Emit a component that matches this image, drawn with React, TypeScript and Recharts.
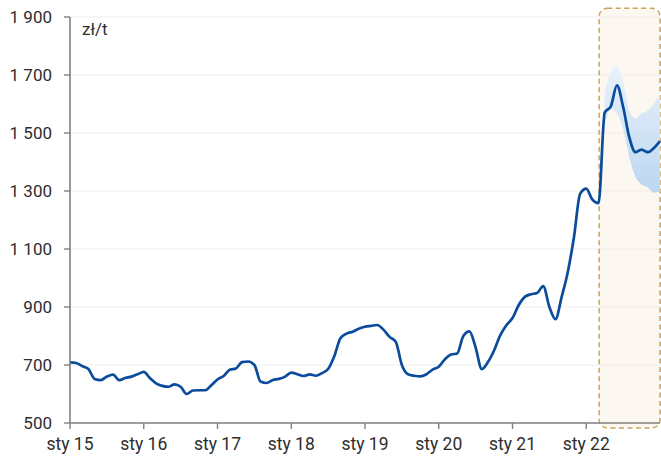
import React from 'react';
import {
  ComposedChart,
  Line,
  Area,
  XAxis,
  YAxis,
  CartesianGrid,
  ReferenceArea,
} from 'recharts';

// Monthly price, zł/t, from January 2015 (index 0) through February 2022
const history: number[] = [
  709, 707, 696, 686, 652, 648, 660, 667, 648, 655, 660, 668,
  676, 655, 637, 628, 625, 633, 625, 600, 612, 613, 613, 630,
  650, 662, 684, 688, 710, 712, 700, 643, 638, 648, 652, 660,
  674, 668, 662, 668, 663, 672, 686, 730, 792, 808, 815, 825,
  832, 835, 838, 822, 797, 780, 700, 668, 663, 661, 668, 684,
  694, 720, 736, 740, 800, 816, 760, 686, 710, 750, 802, 837,
  862, 906, 935, 944, 948, 972, 900, 858, 935, 1021, 1141, 1290,
  1308, 1270, 1258,
];

// Forecast path and its uncertainty range
const forecast: number[] = [1570, 1592, 1664, 1590, 1486, 1434, 1443, 1434, 1448, 1472];
const forecastLow: number[] = [1521, 1584, 1567, 1515, 1417, 1348, 1322, 1312, 1294, 1297];
const forecastHigh: number[] = [1639, 1710, 1733, 1676, 1578, 1550, 1567, 1578, 1601, 1636];

// Axis ticks
const yearLabels: string[] = ['sty 15', 'sty 16', 'sty 17', 'sty 18', 'sty 19', 'sty 20', 'sty 21', 'sty 22'];
const yTicks: number[] = [500, 700, 900, 1100, 1300, 1500, 1700, 1900];

// Forecast window (months since Jan 2015) and the frame's vertical extent
const forecastWindow: number[] = [86.1, 96];
const frameRange: number[] = [483, 1930];

type Row = { t: number; price: number; band?: [number, number] };

const rows: Row[] = [
  ...history.map((price, i) => ({ t: i, price })),
  ...forecast.map((price, j) => ({
    t: history.length + j,
    price,
    band: [forecastLow[j], forecastHigh[j]] as [number, number],
  })),
];

const xTicks = yearLabels.map((_, i) => i * 12);
const lastT = rows[rows.length - 1].t;

const fmtThousands = (v: number) => String(v).replace(/\B(?=(\d{3})+(?!\d))/g, '\u00a0');

const FONT = 'Roboto, "Noto Sans", sans-serif';
const TEXT = '#2e2e2e';
const AXIS = '#808080';

const ForecastFrame = (props: any) => {
  const { x, y, width, height } = props;
  return (
    <rect
      x={x}
      y={y}
      width={width}
      height={height}
      rx={8}
      ry={8}
      fill="#F6EAD8"
      fillOpacity={0.38}
      stroke="#C9A35A"
      strokeWidth={1.5}
      strokeDasharray="5 3.5"
    />
  );
};

export default function App() {
  return (
    <div style={{ position: 'absolute', left: 0, top: 0, width: 661, height: 461, background: '#fff' }}>
      <ComposedChart
        width={661}
        height={461}
        data={rows}
        margin={{ top: 17, right: 1, bottom: 8, left: 0 }}
        style={{ fontFamily: FONT }}
      >
        <defs>
          <linearGradient id="bandFill" x1="0" y1="0" x2="0" y2="1">
            <stop offset="0%" stopColor="#EAF2FB" />
            <stop offset="100%" stopColor="#BBD7F1" />
          </linearGradient>
        </defs>
        <CartesianGrid horizontal vertical={false} stroke="#EDEDED" strokeWidth={1.2} />
        <ReferenceArea
          x1={forecastWindow[0]}
          x2={forecastWindow[1]}
          y1={frameRange[0]}
          y2={frameRange[1]}
          ifOverflow="visible"
          shape={<ForecastFrame />}
        />
        <XAxis
          dataKey="t"
          type="number"
          domain={[0, lastT]}
          ticks={xTicks}
          interval={0}
          tickFormatter={(v: number) => yearLabels[Math.round(v / 12)]}
          height={30}
          tickSize={6}
          tickMargin={9}
          axisLine={{ stroke: AXIS, strokeWidth: 1.6 }}
          tickLine={{ stroke: AXIS, strokeWidth: 1.4 }}
          tick={{ fill: TEXT, fontSize: 17.5, fontFamily: FONT }}
        />
        <YAxis
          type="number"
          domain={[500, 1900]}
          ticks={yTicks}
          interval={0}
          width={70}
          tickSize={6}
          tickMargin={12}
          tickFormatter={fmtThousands}
          axisLine={{ stroke: AXIS, strokeWidth: 1.6 }}
          tickLine={{ stroke: AXIS, strokeWidth: 1.4 }}
          tick={{ fill: TEXT, fontSize: 17, fontFamily: FONT }}
        />
        <Area
          dataKey="band"
          type="monotone"
          stroke="none"
          fill="url(#bandFill)"
          fillOpacity={1}
          isAnimationActive={false}
          dot={false}
          activeDot={false}
        />
        <Line
          dataKey="price"
          type="monotone"
          stroke="#0B4B9C"
          strokeWidth={2.7}
          dot={false}
          activeDot={false}
          isAnimationActive={false}
        />
        <text x={82} y={35} fill={TEXT} fontSize={17} fontFamily={FONT}>
          zł/t
        </text>
      </ComposedChart>
    </div>
  );
}
